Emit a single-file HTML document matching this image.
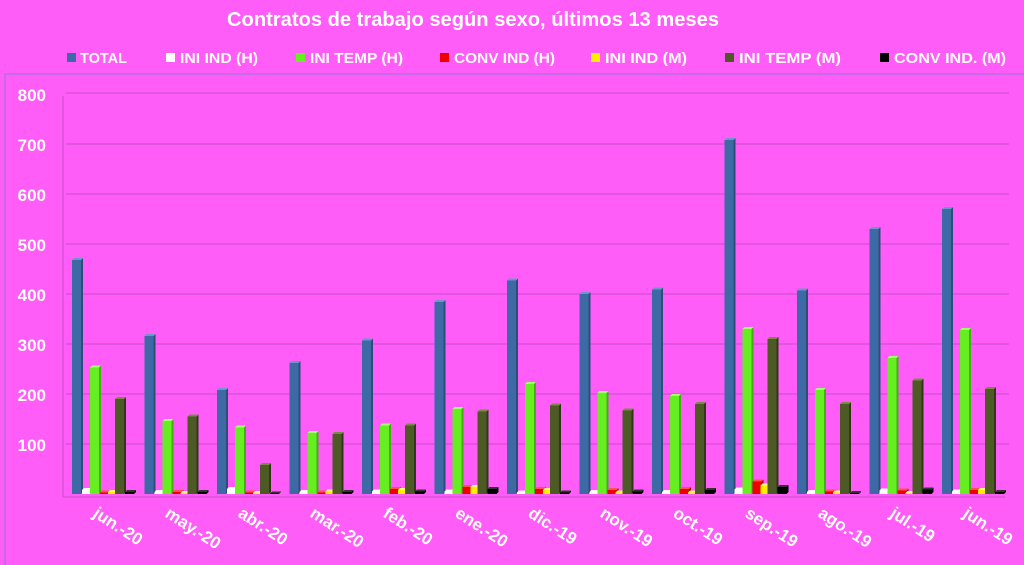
<!DOCTYPE html>
<html><head><meta charset="utf-8"><style>
body{margin:0;background:#ff5cf8;width:1024px;height:565px;overflow:hidden;font-family:"Liberation Sans",sans-serif}
svg{display:block}
text{font-family:"Liberation Sans",sans-serif;font-weight:bold;fill:#fff}
</style></head><body>
<svg id="s" width="1024" height="565" xmlns="http://www.w3.org/2000/svg">
<rect x="0" y="0" width="1024" height="565" fill="#ff5cf8"/>
<text x="473" y="26" font-size="20" text-anchor="middle" textLength="492" lengthAdjust="spacingAndGlyphs">Contratos de trabajo según sexo, últimos 13 meses</text>
<g font-size="14.5">
<rect x="67" y="53" width="9" height="9" fill="#3d6aa4"/><text x="80" y="63">TOTAL</text>
<rect x="166" y="53" width="9" height="9" fill="#fff"/><text x="180" y="63" textLength="78" lengthAdjust="spacingAndGlyphs">INI IND (H)</text>
<rect x="296" y="53" width="9" height="9" fill="#66ee22"/><text x="310" y="63" textLength="93" lengthAdjust="spacingAndGlyphs">INI TEMP (H)</text>
<rect x="440" y="53" width="9" height="9" fill="#ee0000"/><text x="454" y="63" textLength="101" lengthAdjust="spacingAndGlyphs">CONV IND (H)</text>
<rect x="591" y="53" width="9" height="9" fill="#ffee00"/><text x="605" y="63" textLength="82" lengthAdjust="spacingAndGlyphs">INI IND (M)</text>
<rect x="725" y="53" width="9" height="9" fill="#4d5a26"/><text x="739" y="63" textLength="102" lengthAdjust="spacingAndGlyphs">INI TEMP  (M)</text>
<rect x="880" y="53" width="9" height="9" fill="#000"/><text x="894" y="63" textLength="112" lengthAdjust="spacingAndGlyphs">CONV IND.  (M)</text>
</g>
<rect x="5" y="74" width="1030" height="500" fill="none" stroke="#b070e0" stroke-width="1.5"/>
<g stroke="#c350c8" stroke-width="1">
<line x1="66" y1="93" x2="1009" y2="93"/><line x1="66" y1="144" x2="1009" y2="144"/>
<line x1="66" y1="194" x2="1009" y2="194"/><line x1="66" y1="244" x2="1009" y2="244"/>
<line x1="66" y1="294" x2="1009" y2="294"/><line x1="66" y1="344" x2="1009" y2="344"/>
<line x1="66" y1="394" x2="1009" y2="394"/><line x1="66" y1="444" x2="1009" y2="444"/>
<line x1="63" y1="96" x2="63" y2="497"/><line x1="63" y1="497" x2="1005" y2="497"/>
</g>
<g font-size="17" text-anchor="end">
<text x="46" y="101">800</text><text x="46" y="151">700</text><text x="46" y="201">600</text>
<text x="46" y="251">500</text><text x="46" y="301">400</text><text x="46" y="351">300</text>
<text x="46" y="401">200</text><text x="46" y="451">100</text>
</g>
<g id="bars"></g>
<g font-size="17">
<text transform="translate(92,516) rotate(33)">jun.-20</text>
<text transform="translate(164,516) rotate(33)">may.-20</text>
<text transform="translate(237,516) rotate(33)">abr.-20</text>
<text transform="translate(309,516) rotate(33)">mar.-20</text>
<text transform="translate(382,516) rotate(33)">feb.-20</text>
<text transform="translate(454,516) rotate(33)">ene.-20</text>
<text transform="translate(527,516) rotate(33)">dic.-19</text>
<text transform="translate(599,516) rotate(33)">nov.-19</text>
<text transform="translate(672,516) rotate(33)">oct.-19</text>
<text transform="translate(744,516) rotate(33)">sep.-19</text>
<text transform="translate(817,516) rotate(33)">ago.-19</text>
<text transform="translate(889,516) rotate(33)">jul.-19</text>
<text transform="translate(962,516) rotate(33)">jun.-19</text>
</g>
</svg>
<script>
var T=[468,316,208,262,307,384,427,400,409,708,407,530,570];
var G=[253,146,133,122,137,170,220,202,196,330,208,272,328];
var D=[190,155,58,120,137,165,177,167,180,310,180,227,210];
var W=[8,4,10,4,5,5,3,4,4,9,4,7,5];
var R=[3,4,3,3,10,14,10,8,10,25,5,7,8];
var Y=[4,2,2,5,8,14,8,3,3,17,3,2,8];
var K=[4,4,1,4,5,10,3,5,8,14,2,9,4];
var cols=[["#3d6aa4","#2a4d7a","#6d95c8"],["#ffffff","#d0d0d0","#ffffff"],["#66ee22","#40b010","#a0ff70"],["#ee0000","#a00000","#ff5050"],["#ffee00","#c0b000","#fff880"],["#4d5a26","#2e3816","#7a8a44"],["#000000","#000000","#333333"]];
var offs=[9,19,27,37,45,52,62];
var h="";
for(var i=0;i<13;i++){
 var x0=63+i*72.5;
 var vals=[T[i],W[i],G[i],R[i],Y[i],D[i],K[i]];
 for(var j=0;j<7;j++){
  var v=vals[j],x=x0+offs[j],w=9,hh=v*0.5,y=494-hh,c=cols[j];
  h+='<rect x="'+x+'" y="'+y+'" width="'+w+'" height="'+hh+'" fill="'+c[0]+'"/>';
  h+='<polygon points="'+(x+w)+','+y+' '+(x+w+2)+','+(y-2)+' '+(x+w+2)+','+(494-2)+' '+(x+w)+',494" fill="'+c[1]+'"/>';
  h+='<polygon points="'+x+','+y+' '+(x+2)+','+(y-2)+' '+(x+w+2)+','+(y-2)+' '+(x+w)+','+y+'" fill="'+c[2]+'"/>';
 }
}
document.getElementById("bars").innerHTML=h;
</script>
</body></html>
